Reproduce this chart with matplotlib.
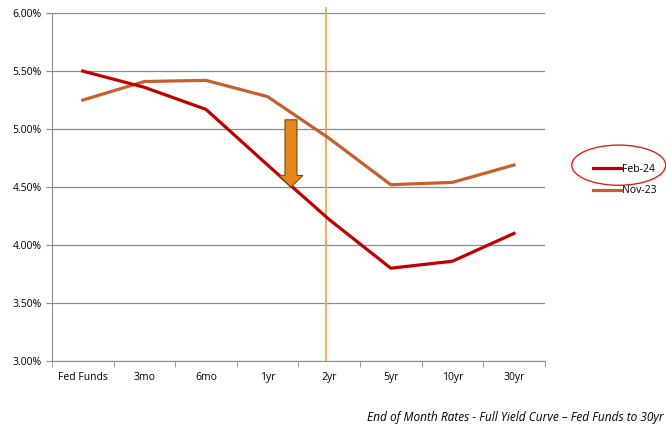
import matplotlib.pyplot as plt
from matplotlib.patches import Ellipse, FancyArrow
from matplotlib.ticker import FuncFormatter, FixedLocator

# Courbe des taux, fin de mois
maturites = ["Fed Funds", "3mo", "6mo", "1yr", "2yr", "5yr", "10yr", "30yr"]
taux_feb24 = [5.50, 5.36, 5.17, 4.69, 4.22, 3.80, 3.86, 4.10]
taux_nov23 = [5.25, 5.41, 5.42, 5.28, 4.92, 4.52, 4.54, 4.69]

plt.rcParams['font.family'] = ['Open Sans', 'DejaVu Sans']

fig = plt.figure(figsize=(6.66, 4.37), dpi=100)
ax = fig.add_axes([0.078, 0.174, 0.740, 0.796])

x = list(range(len(maturites)))
ax.plot(x, taux_feb24, color='#C00000', linewidth=2.3, label='Feb-24', zorder=4)
ax.plot(x, taux_nov23, color='#C8602E', linewidth=2.3, label='Nov-23', zorder=3)

ax.set_xlim(-0.5, len(maturites) - 0.5)
ax.set_ylim(3.0, 6.0)
ax.set_yticks([3.0, 3.5, 4.0, 4.5, 5.0, 5.5, 6.0])
ax.yaxis.set_major_formatter(FuncFormatter(lambda v, p: f"{v:.2f}%"))
ax.set_xticks(x)
ax.set_xticklabels(maturites)
ax.xaxis.set_minor_locator(FixedLocator([i - 0.5 for i in range(len(maturites) + 1)]))
ax.tick_params(axis='x', which='major', length=0, labelsize=7.5, pad=8)
ax.tick_params(axis='x', which='minor', length=4, color='#888888')
ax.tick_params(axis='y', length=4, color='#888888', labelsize=7.5)

ax.grid(axis='y', color='#8c8c8c', linewidth=0.9)
ax.set_axisbelow(True)
for s in ['top', 'right']:
    ax.spines[s].set_visible(False)
for s in ['left', 'bottom']:
    ax.spines[s].set_color('#8c8c8c')

# Ligne verticale au 2 ans
ax.axvline(3.95, ymin=0, ymax=1.015, color='#F0A850', linewidth=1.3, clip_on=False, zorder=2)

# Flèche de baisse
ax.add_patch(FancyArrow(3.38, 5.08, 0, -0.58, width=0.195, head_width=0.39,
                        head_length=0.10, length_includes_head=True,
                        facecolor='#E3861B', edgecolor='#7A4A10', linewidth=0.8, zorder=5))

leg = ax.legend(loc='center left', bbox_to_anchor=(0.876, 0.588),
                bbox_transform=fig.transFigure, frameon=False,
                fontsize=7.5, handlelength=2.7, handletextpad=0.1, labelspacing=1.0)

# Cercle rouge autour de Feb-24
fig.add_artist(Ellipse((0.929, 0.622), 0.141, 0.092, transform=fig.transFigure,
                       fill=False, edgecolor='#E02020', linewidth=1.0))

fig.text(0.997, 0.03, "End of Month Rates - Full Yield Curve \u2013 Fed Funds to 30yr",
         ha='right', va='bottom', style='italic', fontsize=8.6)

fig.savefig('out.png', dpi=100)
